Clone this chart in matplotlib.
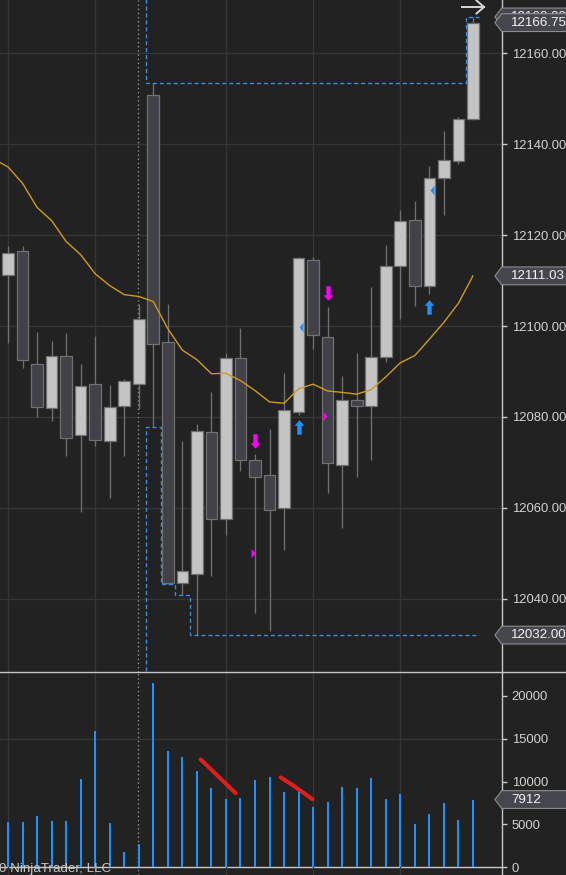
import matplotlib
matplotlib.use('Agg')
import matplotlib.pyplot as plt
import numpy as np
from matplotlib import transforms as mtrans
from matplotlib.patches import Polygon
from matplotlib.lines import Line2D

plt.rcParams['font.family'] = ['Liberation Sans', 'DejaVu Sans']

# ---------------- data ----------------
opens = [12111.25, 12116.5, 12091.75, 12082.0, 12093.5, 12076.0, 12087.25, 12074.75, 12082.5, 12087.25,
         12150.75, 12096.5, 12043.5, 12045.5, 12076.75, 12057.5, 12093.0, 12070.5, 12067.25, 12060.0,
         12081.0, 12114.5, 12097.5, 12069.5, 12083.75, 12082.5, 12093.25, 12113.25, 12123.25, 12108.75,
         12132.5, 12136.25, 12145.5]
highs = [12117.5, 12117.5, 12098.75, 12096.75, 12098.5, 12091.75, 12097.75, 12087.0, 12088.25, 12104.75,
         12153.5, 12104.75, 12074.75, 12078.5, 12085.5, 12094.0, 12099.5, 12071.75, 12077.25, 12089.75,
         12115.25, 12115.25, 12104.25, 12089.0, 12094.0, 12108.5, 12117.75, 12125.5, 12127.5, 12135.25,
         12143.0, 12146.0, 12168.0]
lows = [12096.25, 12090.75, 12080.0, 12079.0, 12071.5, 12059.0, 12073.5, 12062.25, 12071.5, 12081.75,
        12077.75, 12043.25, 12040.75, 12032.0, 12045.0, 12054.0, 12068.0, 12036.75, 12033.0, 12050.75,
        12080.5, 12095.0, 12063.25, 12055.5, 12066.75, 12070.5, 12092.0, 12101.5, 12104.5, 12107.0,
        12124.5, 12135.75, 12145.25]
closes = [12116.0, 12092.5, 12082.25, 12093.5, 12075.25, 12086.75, 12075.0, 12082.25, 12088.0, 12101.5,
          12096.0, 12043.5, 12046.0, 12077.0, 12057.5, 12093.0, 12070.5, 12066.75, 12059.5, 12081.5,
          12115.0, 12098.0, 12069.75, 12083.75, 12082.5, 12093.25, 12113.25, 12123.0, 12108.75, 12132.5,
          12136.5, 12145.5, 12166.75]
volumes = [5300, 5300, 6000, 5400, 5400, 10300, 15900, 5200, 1800, 2750,
           21500, 13600, 12900, 11200, 9300, 8000, 8100, 10200, 10500, 8800,
           8900, 7000, 7600, 9400, 9300, 10400, 8000, 8600, 5100, 6200,
           7500, 5500, 7912]
# moving average: first value belongs to the bar before the first visible bar
ema_prior = 12136.75
ema = [12135.0, 12131.4, 12126.1, 12123.2, 12118.6, 12115.7, 12111.5, 12108.9, 12106.9, 12106.5,
       12105.4, 12099.4, 12094.7, 12092.6, 12089.5, 12089.6, 12088.0, 12085.8, 12083.3, 12083.0,
       12086.2, 12087.2, 12085.7, 12085.4, 12085.0, 12086.0, 12088.8, 12091.9, 12093.5, 12097.1,
       12100.8, 12105.0, 12111.03]

price_ticks = [12040, 12060, 12080, 12100, 12120, 12140, 12160]
vol_ticks = [0, 5000, 10000, 15000, 20000]
vol_grid_levels = [15000]
time_grid_bars = [0, 6, 15, 21, 27]
session_bar = 9

# session high / low step lines (bar where level starts, level)
upper_bars = [9, 10, 32]
upper_levels = [12190.0, 12153.5, 12168.0]
lower_bars = [9, 10, 11, 12, 13]
lower_levels = [12000.0, 12077.75, 12043.25, 12040.75, 12032.0]

# signal markers
down_arrow_bars = [17, 22]
down_arrow_prices = [12074.65, 12107.2]
up_arrow_bars = [20, 29]
up_arrow_prices = [12077.85, 12104.1]
right_tri_bars = [17, 22]
right_tri_prices = [12050.0, 12080.25]
left_tri_bars = [20, 29]
left_tri_prices = [12099.75, 12130.0]

# hand-drawn red lines on volume panel (bar position, volume)
red1_x = [13.26, 15.67]
red1_v = [12600, 8650]
red2_x = [18.76, 19.59, 20.96]
red2_v = [10500, 9600, 7950]

# price labels on the right
label_high = 12168.00
label_last = closes[-1]
label_ema = ema[-1]
label_low = 12032.00
label_vol = volumes[-1]

# ---------------- style ----------------
BG = '#222222'
GRID = '#363636'
AX = '#c8c8c8'
LIGHT = '#c4c4c4'
DARK = '#414148'
WICK = '#707070'
BLUE = '#1e90ff'
DASH = '#3a8ae0'
MAG = '#ff00ff'
EMA = '#d09a1c'
FS = 9.4

W, H = 566, 875
fig = plt.figure(figsize=(W / 100, H / 100), dpi=100, facecolor=BG)
sep_y = 671.7
ax_right = 501.7 / W
ax = fig.add_axes([0, 1 - sep_y / H, ax_right, sep_y / H], facecolor=BG)
ax2 = fig.add_axes([0, 0, ax_right, 1 - sep_y / H], facecolor=BG)

n = len(opens)
x = np.arange(n)
xlim = (-0.5506, 33.98)

for a in (ax, ax2):
    a.set_xlim(*xlim)
    for s in ('top', 'left', 'bottom'):
        a.spines[s].set_visible(False)
    a.spines['right'].set_color(AX)
    a.spines['right'].set_linewidth(1.0)
    a.yaxis.tick_right()
    a.tick_params(axis='y', colors=AX, labelcolor='#d2d2d2', length=3.6, width=1,
                  pad=3.6, labelsize=FS)
    a.set_xticks(time_grid_bars)
    a.tick_params(axis='x', length=0, labelbottom=False)
    a.grid(axis='x', color=GRID, lw=1.0)
    a.axvline(session_bar - 0.03, color='#8a8a8a', lw=1.0, ls=(0, (1, 2)), zorder=1)

ax.set_ylim(12023.94, 12171.73)
ax.set_yticks(price_ticks, labels=[f"{t:.2f}" for t in price_ticks])
for t in price_ticks:
    ax.axhline(t, color=GRID, lw=1.0, zorder=0)

ax2.set_ylim(-899, 22837)
ax2.set_yticks(vol_ticks, labels=[str(v) for v in vol_ticks])
for lv in vol_grid_levels:
    ax2.axhline(lv, color=GRID, lw=1.0, zorder=0)
ax2.axhline(0, color=AX, lw=1.0, zorder=1)

# ---------------- candles ----------------
o = np.array(opens); c = np.array(closes)
ax.vlines(x, lows, highs, color=WICK, lw=0.95, zorder=2)
up = c >= o
bottoms = np.minimum(o, c)
heights = np.maximum(np.abs(c - o), 0.3)
ax.bar(x, heights, bottom=bottoms, width=0.8,
       color=[LIGHT if u else DARK for u in up], edgecolor=WICK, linewidth=0.9, zorder=3)

# moving average
ax.plot(np.arange(-1, n), [ema_prior] + ema, color=EMA, lw=1.0, zorder=4)

# session high/low stairs
def stairs_from(bars, levels):
    edges = [b - 0.5 for b in bars] + [n - 1 + 0.42]
    return np.array(edges), np.array(levels)

e_u, v_u = stairs_from(upper_bars, upper_levels)
ax.stairs(v_u, e_u, baseline=None, color=DASH, lw=1.0, ls=(0, (3, 2)), zorder=5)
e_l, v_l = stairs_from(lower_bars, lower_levels)
ax.stairs(v_l, e_l, baseline=None, color=DASH, lw=1.0, ls=(0, (3, 2)), zorder=5)

# markers
down_arrow = [(-0.15, 0.5), (0.15, 0.5), (0.15, -0.12), (0.34, -0.12), (0, -0.5),
              (-0.34, -0.12), (-0.15, -0.12), (-0.15, 0.5)]
up_arrow = [(px, -py) for px, py in down_arrow]
right_tri = [(-0.2, 0.5), (0.2, 0.0), (-0.2, -0.5), (-0.2, 0.5)]
left_tri = [(-px, py) for px, py in right_tri]
ax.plot(down_arrow_bars, down_arrow_prices, ls='none', marker=down_arrow, ms=10.4,
        color=MAG, mec='none', zorder=7)
ax.plot(up_arrow_bars, up_arrow_prices, ls='none', marker=up_arrow, ms=10.4,
        color=BLUE, mec='none', zorder=7)
ax.plot(np.array(right_tri_bars) - 0.15, right_tri_prices, ls='none', marker=right_tri, ms=7.0,
        color=MAG, mec='none', zorder=7)
ax.plot(np.array(left_tri_bars) + 0.15, left_tri_prices, ls='none', marker=left_tri, ms=7.0,
        color=BLUE, mec='none', zorder=7)

# ---------------- volume ----------------
ax2.bar(x, volumes, width=0.14, color=BLUE, zorder=3)
ax2.plot(red1_x, red1_v, color='#e01e1e', lw=2.9, solid_capstyle='round', zorder=6)
ax2.plot(red2_x, red2_v, color='#e01e1e', lw=2.9, solid_capstyle='round',
         solid_joinstyle='round', zorder=6)

# ---------------- right-side value labels ----------------
def side_label(a, y, text, z=20, face='#46464e'):
    blend = mtrans.blended_transform_factory(a.transAxes, a.transData)
    tr = fig.dpi_scale_trans + mtrans.ScaledTranslation(1.0, y, blend)
    h = 0.089
    verts = [(-0.068, 0), (0.0, h), (0.75, h), (0.75, -h), (0.0, -h)]
    a.add_patch(Polygon(verts, closed=True, transform=tr, facecolor=face,
                        edgecolor='#8e8e8e', lw=0.8, clip_on=False, zorder=z))
    a.annotate(text, xy=(1.0, y), xycoords=blend, xytext=(6.6, -0.3), textcoords='offset points',
               va='center', ha='left', color='#f4f4f4', fontsize=FS + 0.2,
               annotation_clip=False, zorder=z + 1)

side_label(ax, label_high, f"{label_high:.2f}", z=18)
side_label(ax, label_last, f"{label_last:.2f}", z=20)
side_label(ax, label_ema, f"{label_ema:.2f}", z=20)
side_label(ax, label_low, f"{label_low:.2f}", z=20)
side_label(ax2, label_vol, f"{label_vol}", z=20)

# panel separator
fig.add_artist(Line2D([0, 1], [1 - sep_y / H, 1 - sep_y / H], transform=fig.transFigure,
                      color=AX, lw=1.0))

# scroll arrow (top right), figure pixel positions
arrow_x = [462, 484]
arrow_y = 7
fx = lambda px: px / W
fy = lambda py: 1 - py / H
fig.add_artist(Line2D([fx(arrow_x[0]), fx(arrow_x[1])], [fy(arrow_y), fy(arrow_y)],
                      transform=fig.transFigure, color='#d8d8d8', lw=1.4))
fig.add_artist(Line2D([fx(arrow_x[1] - 7.5), fx(arrow_x[1]), fx(arrow_x[1] - 7.5)],
                      [fy(arrow_y - 6.5), fy(arrow_y), fy(arrow_y + 6.5)],
                      transform=fig.transFigure, color='#d8d8d8', lw=1.4,
                      solid_joinstyle='miter'))

# copyright
fig.text(-1 / W, (H - 872) / H, "0 NinjaTrader, LLC", color='#c8c8c8', fontsize=FS + 0.2,
         ha='left', va='baseline')

fig.savefig('out.png', dpi=100, facecolor=BG)
